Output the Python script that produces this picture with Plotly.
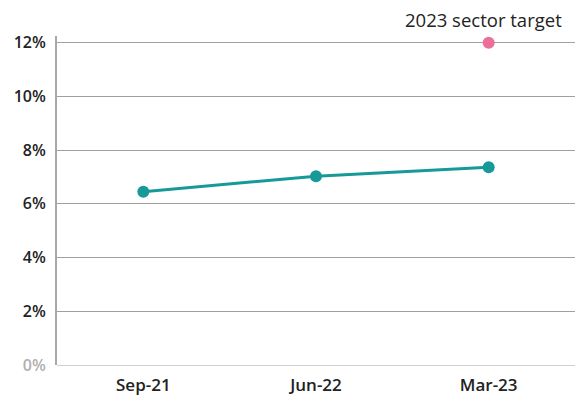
import plotly.graph_objects as go

categories = ["Sep-21", "Jun-22", "Mar-23"]
values = [6.45, 7.03, 7.36]
target_category = ["Mar-23"]
target_value = [12.0]
target_label = "2023 sector target"
y_ticks = [0, 2, 4, 6, 8, 10, 12]
y_ticktext = ['<span style="color:#b0b0b0">0%</span>', "2%", "4%", "6%", "8%", "10%", "12%"]

fig = go.Figure()
fig.add_trace(go.Scatter(
    x=categories, y=values, mode="lines+markers",
    line=dict(color="#17999a", width=3),
    marker=dict(color="#17999a", size=12),
    showlegend=False, hoverinfo="skip"))
fig.add_trace(go.Scatter(
    x=target_category, y=target_value, mode="markers",
    marker=dict(color="#ec6f9a", size=12),
    showlegend=False, hoverinfo="skip"))
fig.add_annotation(
    x=target_category[0], y=target_value[0], text=target_label,
    showarrow=False, yshift=23, xshift=-5,
    font=dict(family="Open Sans", size=18.5, color="#222222"))

fig.update_layout(
    width=575, height=397,
    margin=dict(l=57, r=0, t=36, b=32),
    paper_bgcolor="white", plot_bgcolor="white",
    font=dict(family="Open Sans", size=16, color="#222222"),
    xaxis=dict(type="category", range=[-0.5, 2.5], showgrid=False,
               showline=False, ticks="",
               tickfont=dict(size=17, weight=600), ticklabelstandoff=8),
    yaxis=dict(range=[0, 12.25], tickvals=y_ticks, ticktext=y_ticktext,
               showgrid=True, gridcolor="#a0a0a0", gridwidth=1,
               showline=True, linecolor="#a8a8a8", linewidth=2,
               zeroline=True, zerolinecolor="#d0d0d0", zerolinewidth=1,
               ticks="", tickfont=dict(size=16, weight=600), ticklabelstandoff=6),
)
fig.write_html("out.html")
